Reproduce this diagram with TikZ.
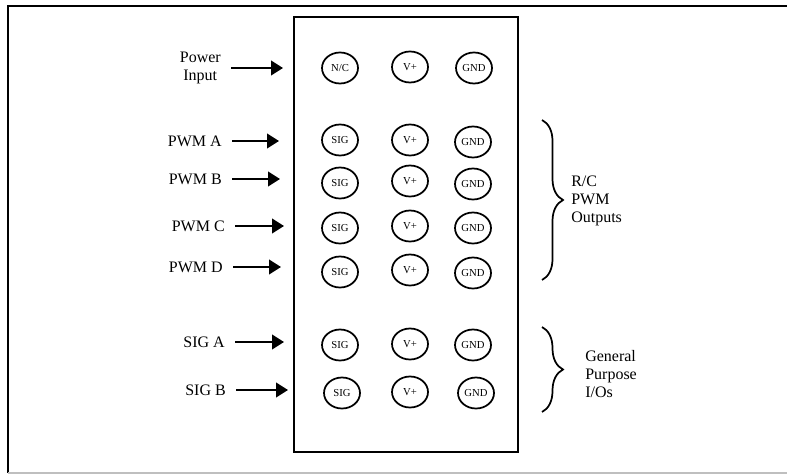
\documentclass[tikz,border=0pt]{standalone}
\usepackage{fontspec}
\setmainfont{Liberation Serif}
\usetikzlibrary{positioning,shapes.geometric,arrows.meta,decorations.pathreplacing}
\tikzset{
  hpin/.style ={ellipse, draw, line width=1.3pt, minimum width=27pt, minimum height=23.25pt,
                inner sep=0pt, font=\fontsize{8}{9}\selectfont},
  brd/.style  ={rectangle, draw, line width=1.5pt, minimum width=168pt, minimum height=326.25pt},
  lbl/.style  ={anchor=east, inner sep=0pt, align=center, font=\fontsize{12}{13.5}\selectfont},
  grp/.style  ={anchor=west, inner sep=0pt, align=left, font=\fontsize{12}{13.5}\selectfont},
  fl/.style   ={-{Triangle[length=9pt,width=11pt]}, line width=1.5pt,
                shorten <=7.5pt, shorten >=7.5pt},
  brc/.style  ={decorate, decoration={brace, amplitude=15.75pt}, line width=1.3pt}
}
\begin{document}
\begin{tikzpicture}[x=0.75pt, y=-0.75pt]
  \useasboundingbox (0,0) rectangle (787,474);
  % page frame
  \draw[line width=1.5pt] (787,6) -- (7.5,6) -- (7.5,473);
  \draw[black!25, line width=1pt] (7.5,473) -- (787,473);
  \node[brd] (board) at (406,234.5) {};
  % header pins
  \node[hpin] (nc) at (340,68) {N/C};  \node[hpin] (v0) at (410,67) {V+};  \node[hpin] (g0) at (474,68) {GND};
  \node[hpin] (sa) at (340,140) {SIG}; \node[hpin] (va) at (410,140) {V+}; \node[hpin] (ga) at (473,142) {GND};
  \node[hpin] (sb) at (340,183) {SIG}; \node[hpin] (vb) at (410,181) {V+}; \node[hpin] (gb) at (473,184) {GND};
  \node[hpin] (sc) at (340,228) {SIG}; \node[hpin] (vc) at (410,226) {V+}; \node[hpin] (gc) at (473,228) {GND};
  \node[hpin] (sd) at (340,272) {SIG}; \node[hpin] (vd) at (410,270) {V+}; \node[hpin] (gd) at (473,273) {GND};
  \node[hpin] (se) at (340,345) {SIG}; \node[hpin] (ve) at (410,344) {V+}; \node[hpin] (ge) at (473,345) {GND};
  \node[hpin] (sf) at (342,393) {SIG}; \node[hpin] (vf) at (410,392) {V+}; \node[hpin] (gf) at (476,393) {GND};
  % inputs
  \node[lbl] (pwr) at (221,68) {Power\\Input};
  \node[lbl] (pwa) at (222,141) {PWM A};
  \node[lbl] (pwb) at (222,179) {PWM B};
  \node[lbl] (pwc) at (225,226) {PWM C};
  \node[lbl] (pwd) at (223,267) {PWM D};
  \node[lbl] (sga) at (225,342) {SIG A};
  \node[lbl] (sgb) at (226,390) {SIG B};
  \draw[fl] (pwr.east) -- (pwr.east -| board.west);
  \draw[fl,shorten >=10.5pt] (pwa.east) -- (pwa.east -| board.west);
  \draw[fl,shorten >=9.75pt] (pwb.east) -- (pwb.east -| board.west);
  \draw[fl,shorten >=6.75pt] (pwc.east) -- (pwc.east -| board.west);
  \draw[fl,shorten >=9pt] (pwd.east) -- (pwd.east -| board.west);
  \draw[fl,shorten >=6.75pt] (sga.east) -- (sga.east -| board.west);
  \draw[fl,shorten >=3.75pt] (sgb.east) -- (sgb.east -| board.west);
  % groups
  \coordinate (ot) at (542,120); \coordinate (ob) at (542,280);
  \coordinate (gt) at (542,327); \coordinate (gm) at (542,412);
  \draw[brc] (ot) -- (ob);
  \draw[brc] (gt) -- (gm);
  \node[grp] (outs) at (571,201) {R/C\\PWM\\Outputs};
  \node[grp] (gpio) at (585,374) {General\\Purpose\\I/Os};
\end{tikzpicture}
\end{document}
